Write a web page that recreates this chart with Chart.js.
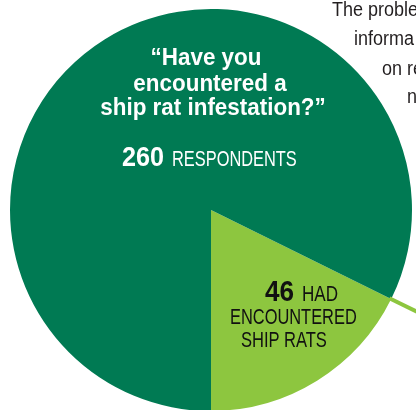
<!DOCTYPE html>
<html>
<head>
<meta charset="utf-8">
<script src="https://cdn.jsdelivr.net/npm/chart.js@4.4.1/dist/chart.umd.min.js"></script>
<style>
  html, body { margin: 0; padding: 0; background: #fff; overflow: hidden; }
  #wrap { position: relative; width: 416px; height: 412px; }
  .t {
    position: absolute;
    white-space: nowrap;
    font-family: "Liberation Sans", Arial, sans-serif;
  }
</style>
</head>
<body>
<div id="wrap">
  <canvas id="pie"></canvas>
</div>
<script>
const labels = ["Had encountered ship rats", "Had not encountered ship rats"];
const values = [46, 214];
const colors = ["#8dc63f", "#007a53"];

const total = values.reduce((a, b) => a + b, 0);
// light slice ends pointing straight down
const rotation = 180 - values[0] / total * 360;

// thin leader line running out from the slice's upper edge
const leaderLine = {
  id: "leaderLine",
  afterDatasetsDraw(chart) {
    const arc = chart.getDatasetMeta(0).data[0];
    const { x, y, startAngle, outerRadius } = arc.getProps(["x", "y", "startAngle", "outerRadius"], true);
    const ctx = chart.ctx;
    ctx.save();
    ctx.strokeStyle = colors[0];
    ctx.lineWidth = 4;
    ctx.beginPath();
    ctx.moveTo(x + Math.cos(startAngle) * (outerRadius - 2), y + Math.sin(startAngle) * (outerRadius - 2));
    ctx.lineTo(x + Math.cos(startAngle) * (outerRadius + 60), y + Math.sin(startAngle) * (outerRadius + 60));
    ctx.stroke();
    ctx.restore();
  }
};

new Chart(document.getElementById("pie"), {
  type: "pie",
  data: {
    labels: labels,
    datasets: [{
      data: values,
      backgroundColor: colors,
      borderWidth: 0,
      hoverOffset: 0
    }]
  },
  options: {
    responsive: true,
    maintainAspectRatio: false,
    animation: false,
    events: [],
    rotation: rotation,
    layout: { padding: { left: 10, top: 9, right: 4, bottom: 1 } },
    plugins: {
      legend: { display: false },
      tooltip: { enabled: false }
    }
  },
  plugins: [leaderLine]
});

// text pieces: [text, x, baseline, size, weight, color, scaleX, align]
const texts = [
  ["\u201cHave you", 206, 65, 23, "bold", "#fff", 0.975, "center"],
  ["encountered a", 210, 91.5, 23, "bold", "#fff", 0.975, "center"],
  ["ship rat infestation?\u201d", 212.5, 115, 23, "bold", "#fff", 0.975, "center"],
  ["260", 122, 167, 28, "bold", "#fff", 0.9, "left"],
  ["RESPONDENTS", 172, 167, 22, "normal", "#fff", 0.745, "left"],
  ["46", 265, 302, 29, "bold", "#111", 0.9, "left"],
  ["HAD", 302.3, 302, 22, "normal", "#111", 0.776, "left"],
  ["ENCOUNTERED", 230, 325, 22, "normal", "#111", 0.746, "left"],
  ["SHIP RATS", 241, 347.5, 22, "normal", "#111", 0.753, "left"],
  ["The problem", 331.7, 16, 20, "normal", "#231f20", 0.9, "left"],
  ["informa", 354, 45, 20, "normal", "#231f20", 0.9, "left"],
  ["on re", 381.7, 75, 20, "normal", "#231f20", 0.9, "left"],
  ["n", 407, 103, 20, "normal", "#231f20", 0.9, "left"]
];

const wrap = document.getElementById("wrap");
texts.forEach(([text, x, base, size, weight, color, sx, align]) => {
  const d = document.createElement("div");
  d.className = "t";
  d.textContent = text;
  d.style.fontSize = size + "px";
  d.style.lineHeight = size + "px";
  d.style.fontWeight = weight;
  d.style.color = color;
  d.style.left = x + "px";
  d.style.top = (base - 0.8465 * size) + "px";
  if (align === "center") {
    d.style.transformOrigin = "center center";
    d.style.transform = "translateX(-50%) scaleX(" + sx + ")";
  } else {
    d.style.transformOrigin = "left center";
    d.style.transform = "scaleX(" + sx + ")";
  }
  wrap.appendChild(d);
});
</script>
</body>
</html>
